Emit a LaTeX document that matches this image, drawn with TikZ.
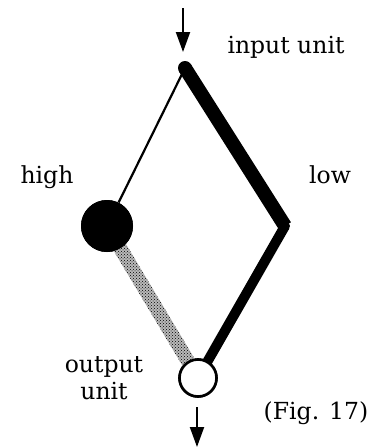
\documentclass[tikz,border=0pt]{standalone}
\usepackage{fontspec}
\setmainfont{DejaVu Serif}
\usetikzlibrary{arrows.meta,patterns,calc}
\begin{document}
\begin{tikzpicture}[x=1pt,y=-1pt,
  lbl/.style={font=\fontsize{23.5}{27}\selectfont, inner sep=0pt},
  flowarrow/.style={line width=2pt, -{Triangle[width=14pt,length=20pt]}},
  dot/.style={circle, fill=black, inner sep=0pt},
  outcircle/.style={circle, draw=black, fill=white, line width=2.6pt, minimum size=37pt, inner sep=0pt},
  dotband/.style={fill=gray!55, postaction={pattern=crosshatch dots, pattern color=black}}]
\useasboundingbox (0,0) rectangle (374,448);
% nodes
\node[dot, minimum size=13pt] (in) at (185,68) {};
\node[dot, minimum size=52pt] (high) at (107,226) {};
\coordinate (low) at (285,226);
\node[outcircle] (out) at (198,378) {};
% connectors
\draw[line width=2.2pt] (in.center) -- (high);
\draw[line width=14pt, line join=bevel] (in.center) -- (low);
\draw[line width=10pt, line join=bevel] (low) -- (out.center);
\fill (low) circle (5pt);
\path[dotband] ($(high.center)!7pt!90:(out.center)$) -- ($(out.center)!7pt!-90:(high.center)$)
   -- ($(out.center)!7pt!90:(high.center)$) -- ($(high.center)!7pt!-90:(out.center)$) -- cycle;
\node[dot, minimum size=52pt] at (high.center) {};
\node[dot, minimum size=14pt] at (in.center) {};
\node[outcircle] at (out.center) {};
% arrows
\coordinate (tatop) at (183,8);
\coordinate (tabot) at (183,52);
\draw[flowarrow] (tatop) -- (tabot);
\coordinate (batop) at (197,407);
\coordinate (babot) at (197,447);
\draw[flowarrow] (batop) -- (babot);
% labels
\node[lbl, anchor=base] (linput) at (286,53) {input unit};
\node[lbl, anchor=base] (lhigh) at (47,183) {high};
\node[lbl, anchor=base] (llow) at (330,183) {low};
\node[lbl, anchor=base, align=center] (lout) at (104,399) {output\\unit};
\node[lbl, anchor=base] (lfig) at (316,419) {(Fig. 17)};
\end{tikzpicture}
\end{document}
